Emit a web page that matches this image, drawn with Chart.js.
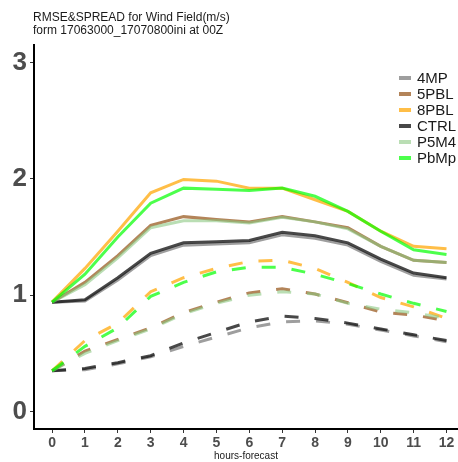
<!DOCTYPE html>
<html>
<head>
<meta charset="utf-8">
<script src="https://cdn.jsdelivr.net/npm/chart.js@4.4.1/dist/chart.umd.min.js"></script>
<style>
  html, body { margin: 0; padding: 0; background: #fff; }
  #wrap { width: 458px; height: 462px; }
</style>
</head>
<body>
<div id="wrap"><canvas id="windChart" width="458" height="462"></canvas></div>
<script>
// hours of forecast
var hours = [0, 1, 2, 3, 4, 5, 6, 7, 8, 9, 10, 11, 12];
var yTicks = [0, 1, 2, 3];

// RMSE (solid lines)
var rmse4MP  = [0.94, 0.95, 1.13, 1.34, 1.43, 1.44, 1.45, 1.52, 1.49, 1.43, 1.29, 1.17, 1.14];
var rmse5PBL = [0.94, 1.11, 1.34, 1.60, 1.675, 1.65, 1.63, 1.675, 1.63, 1.58, 1.42, 1.30, 1.28];
var rmse8PBL = [0.94, 1.23, 1.55, 1.88, 1.995, 1.98, 1.92, 1.92, 1.82, 1.72, 1.55, 1.42, 1.40];
var rmseCTRL = [0.94, 0.96, 1.15, 1.36, 1.45, 1.46, 1.47, 1.54, 1.51, 1.45, 1.31, 1.19, 1.15];
var rmseP5M4 = [0.94, 1.09, 1.32, 1.58, 1.64, 1.64, 1.62, 1.67, 1.63, 1.57, 1.42, 1.30, 1.28];
var rmsePbMp = [0.94, 1.18, 1.50, 1.79, 1.92, 1.91, 1.90, 1.92, 1.85, 1.72, 1.55, 1.39, 1.35];

// SPREAD (dashed lines)
var sprd4MP  = [0.35, 0.36, 0.41, 0.47, 0.56, 0.64, 0.72, 0.77, 0.78, 0.75, 0.70, 0.65, 0.60];
var sprd5PBL = [0.35, 0.52, 0.62, 0.72, 0.85, 0.94, 1.02, 1.055, 1.01, 0.935, 0.855, 0.83, 0.78];
var sprd8PBL = [0.35, 0.61, 0.76, 1.03, 1.15, 1.23, 1.29, 1.30, 1.23, 1.11, 0.98, 0.90, 0.80];
var sprdCTRL = [0.35, 0.37, 0.42, 0.48, 0.59, 0.68, 0.77, 0.82, 0.80, 0.76, 0.71, 0.66, 0.61];
var sprdP5M4 = [0.35, 0.50, 0.61, 0.71, 0.84, 0.93, 1.00, 1.03, 1.01, 0.93, 0.88, 0.85, 0.80];
var sprdPbMp = [0.35, 0.56, 0.72, 0.99, 1.11, 1.20, 1.24, 1.24, 1.18, 1.10, 1.01, 0.93, 0.86];

var titleLines = ["RMSE&SPREAD for Wind Field(m/s)", "form 17063000_17070800ini at 00Z"];

var colors = {
    "4MP":  "rgba(125,125,125,0.75)",
    "5PBL": "rgba(150,85,25,0.72)",
    "8PBL": "rgba(255,165,0,0.72)",
    "CTRL": "rgba(20,20,20,0.78)",
    "P5M4": "rgba(140,200,130,0.6)",
    "PbMp": "rgba(0,255,0,0.7)"
};

function toPoints(arr) {
    return hours.map(function (h, i) { return { x: h, y: arr[i] }; });
}

function lineSet(label, arr, dashed) {
    return {
        label: dashed ? "" : label,
        key: label,
        data: toPoints(arr),
        borderColor: colors[label],
        borderWidth: 3,
        borderDash: dashed ? [14, 16] : [],
        pointRadius: 0,
        tension: 0,
        fill: false
    };
}

var series = [
    ["PbMp", rmsePbMp, sprdPbMp],
    ["P5M4", rmseP5M4, sprdP5M4],
    ["CTRL", rmseCTRL, sprdCTRL],
    ["8PBL", rmse8PBL, sprd8PBL],
    ["5PBL", rmse5PBL, sprd5PBL],
    ["4MP", rmse4MP, sprd4MP]
];

var datasets = [];
series.forEach(function (s) { datasets.push(lineSet(s[0], s[1], false)); });
series.forEach(function (s) { datasets.push(lineSet(s[0], s[2], true)); });

var legendOrder = ["4MP", "5PBL", "8PBL", "CTRL", "P5M4", "PbMp"];

// title + legend drawn by hand, ggplot style
var decorPlugin = {
    id: "decor",
    afterDraw: function (chart) {
        var ctx = chart.ctx;
        ctx.save();
        ctx.fillStyle = "#1a1a1a";
        ctx.font = "12px 'Liberation Sans', Arial, sans-serif";
        ctx.textBaseline = "middle";
        ctx.textAlign = "left";
        ctx.fillText(titleLines[0], 33, 18);
        ctx.fillText(titleLines[1], 33, 31);

        ctx.font = "15px 'Liberation Sans', Arial, sans-serif";
        legendOrder.forEach(function (name, i) {
            var y = 78 + i * 16;
            ctx.strokeStyle = colors[name];
            ctx.lineWidth = 4;
            ctx.beginPath();
            ctx.moveTo(399, y);
            ctx.lineTo(411, y);
            ctx.stroke();
            ctx.fillStyle = "#1a1a1a";
            ctx.fillText(name, 417, y + 1);
        });
        ctx.restore();
    }
};

var ctx = document.getElementById("windChart").getContext("2d");
var chart = new Chart(ctx, {
    type: "line",
    data: { datasets: datasets },
    options: {
        responsive: false,
        animation: false,
        layout: { padding: { top: 45, right: 0, left: 0, bottom: 0 } },
        plugins: {
            legend: { display: false },
            tooltip: { enabled: false },
            title: { display: false }
        },
        scales: {
            x: {
                type: "linear",
                min: -0.55,
                max: 12.35,
                afterBuildTicks: function (scale) {
                    scale.ticks = hours.map(function (h) { return { value: h }; });
                },
                afterFit: function (scale) { scale.height = 33; },
                border: { color: "#000", width: 2 },
                grid: { drawOnChartArea: false, drawTicks: true, tickLength: 4, color: "#333" },
                ticks: {
                    padding: 2,
                    maxRotation: 0,
                    autoSkip: false,
                    color: "#4d4d4d",
                    font: { family: "'Liberation Sans', Arial", size: 14, weight: "bold" }
                },
                title: {
                    display: true,
                    text: "hours-forecast",
                    color: "#1a1a1a",
                    padding: { top: 0, bottom: 0 },
                    font: { family: "'Liberation Sans', Arial", size: 10 }
                }
            },
            y: {
                min: -0.15,
                max: 3.15,
                afterBuildTicks: function (scale) {
                    scale.ticks = yTicks.map(function (v) { return { value: v }; });
                },
                afterFit: function (scale) { scale.width = 34; },
                border: { color: "#000", width: 2 },
                grid: { drawOnChartArea: false, drawTicks: true, tickLength: 4, color: "#333" },
                ticks: {
                    padding: 3,
                    color: "#4d4d4d",
                    font: { family: "'Liberation Sans', Arial", size: 26, weight: "bold" }
                }
            }
        }
    },
    plugins: [decorPlugin]
});
</script>
</body>
</html>
